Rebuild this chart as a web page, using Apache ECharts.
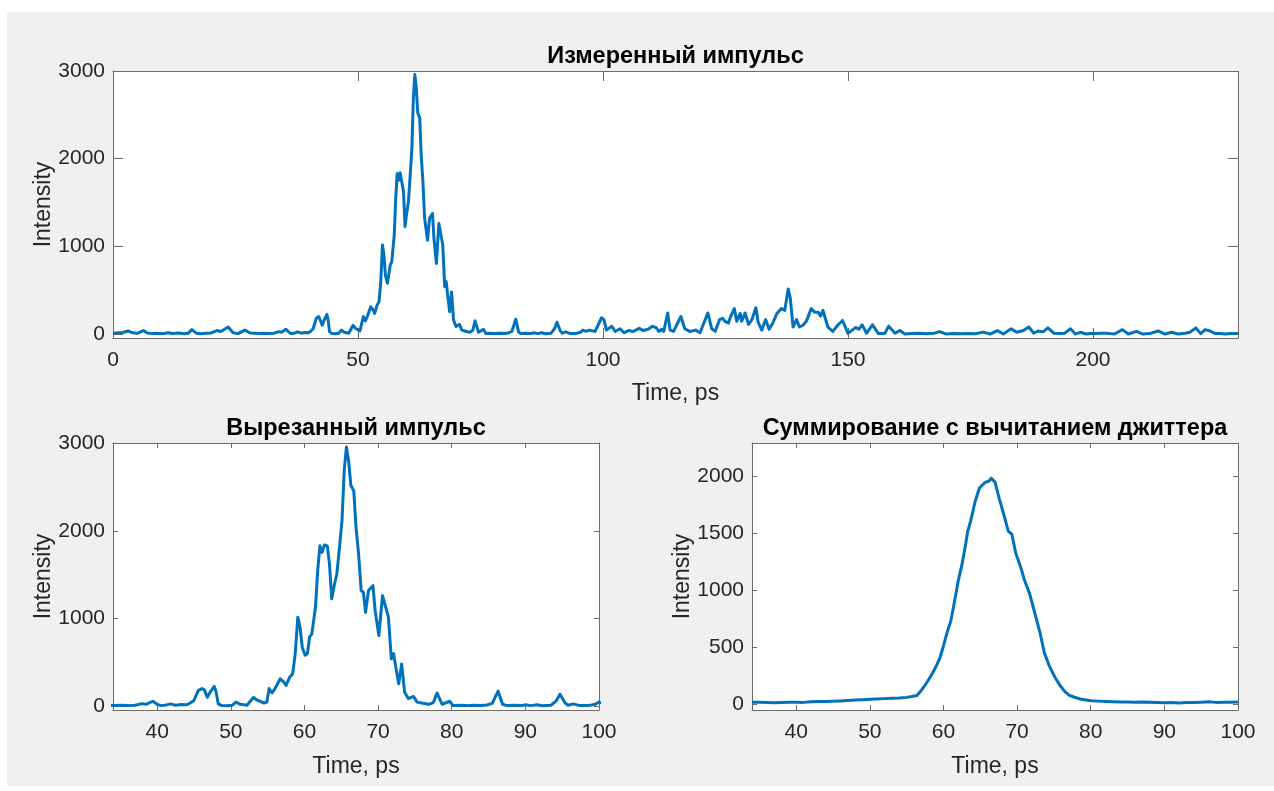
<!DOCTYPE html>
<html>
<head>
<meta charset="utf-8">
<title>Импульс</title>
<script src="https://cdn.jsdelivr.net/npm/echarts@6/dist/echarts.min.js"></script>
<style>
  html, body { margin: 0; padding: 0; background: #ffffff; }
  #frame { position: absolute; left: 7px; top: 12px; width: 1267px; height: 774px; background: #f0f0f0; }
  #chart { position: absolute; left: 0; top: 0; width: 1274px; height: 791px; }
</style>
</head>
<body>
<div id="frame"></div>
<div id="chart"></div>
<script>
// measured pulse, [time ps, intensity]
const measuredPulse = [
  [0,10],[1,14],[2,18],[3.1,35],[4,14],[5,8],[6.2,40],[7,12],[8,5],[9,8],
  [10,4],[11.3,14],[12,6],[13.4,12],[14.5,4],[15.3,8],[16.1,50],[17,10],[18,4],[19,8],
  [20,12],[21.2,40],[22,30],[23.5,80],[24.5,15],[25.5,5],[26.9,45],[28,12],[29,8],
  [29.9,5],[30.9,8],[31.9,5],[32.9,10],[33.8,28],[34.4,20],[35.3,55],[35.9,20],[36.4,5],[36.9,8],
  [37.7,25],[38.4,10],[39.1,18],[39.9,15],[40.4,35],[40.85,60],[41.5,180],[42.0,200],[42.3,185],[42.7,100],
  [43.1,160],[43.65,225],[43.9,160],[44.2,25],[44.7,5],[45.4,3],[46.1,10],[46.6,45],[47.2,20],[48.1,10],
  [49.0,100],[49.4,70],[50.4,35],[50.8,45],[51.1,200],[51.5,150],[51.9,200],[52.6,310],[53.1,275],[53.4,235],
  [53.9,330],[54.3,370],[54.65,600],[55.0,1015],[55.3,900],[55.6,670],[56.0,580],[56.3,600],[56.6,790],[56.9,825],
  [57.4,1130],[57.7,1550],[58.0,1830],[58.3,1755],[58.6,1840],[59.0,1830],[59.3,1620],[59.6,1225],[59.9,1360],[60.3,1510],
  [60.7,1850],[61.0,2120],[61.3,2690],[61.6,2960],[61.9,2800],[62.2,2520],[62.6,2460],[62.9,2040],[63.25,1740],[63.6,1320],
  [63.9,1300],[64.2,1070],[64.6,1320],[65.2,1375],[65.5,1090],[66.0,805],[66.5,1260],[67.0,1110],[67.3,1015],[67.7,540],
  [68.0,600],[68.3,445],[68.7,255],[69.1,480],[69.5,160],[70.0,85],[70.7,110],[71.2,45],[71.8,35],[72.8,20],
  [73.4,40],[73.9,150],[74.6,20],[75.6,55],[76.1,5],[76.9,8],[77.9,5],[78.9,10],[79.9,6],[80.7,12],
  [81.4,30],[82.2,170],[82.8,20],[83.4,5],[84.4,8],[85.4,5],[85.9,15],[86.6,5],[87.5,15],[88.2,3],
  [89.4,10],[90.1,60],[90.6,135],[91.3,35],[91.7,10],[92.4,25],[93.3,5],[94.4,5],[95.4,20],[95.9,45],
  [96.5,30],[97.2,45],[98.4,30],[99.7,186],[100.2,165],[100.7,45],[101.8,88],[102.5,30],[103.5,60],[104.3,15],
  [105.2,40],[106.2,30],[107.4,65],[108.2,40],[109.2,55],[110.1,88],[110.8,75],[111.4,30],[112.0,55],[112.4,30],
  [113.2,240],[113.7,45],[114.4,30],[115.9,200],[116.7,60],[117.7,30],[118.9,45],[119.8,15],[121.4,240],[122.2,60],
  [122.9,30],[123.8,165],[124.4,180],[124.9,145],[125.6,125],[126.1,205],[126.8,290],[127.3,145],[128.0,235],[128.3,145],
  [129.0,240],[129.7,110],[130.4,165],[131.2,300],[131.7,130],[132.4,45],[133.2,165],[133.9,55],[134.7,130],[135.5,235],
  [136.4,290],[137.1,270],[137.8,515],[138.2,420],[138.8,80],[139.5,165],[140.1,80],[140.8,100],[141.5,145],[142.5,290],
  [143.2,250],[143.9,250],[144.4,205],[144.9,270],[145.9,80],[146.9,30],[147.9,100],[148.9,155],[150.0,8],[151.0,50],
  [151.6,75],[152.2,55],[152.9,105],[153.8,10],[155.0,105],[156.2,5],[157.5,5],[158.3,90],[159.6,10],[160.6,40],
  [161.6,0],[163,5],[164.5,8],[166,3],[167.5,8],[168.7,28],[170.1,0],[171.5,5],[173,3],[174.5,6],
  [176,3],[177.6,22],[179,0],[180.5,40],[181.7,0],[183.3,60],[184.4,20],[185.8,40],[186.9,80],[187.9,10],
  [188.8,35],[189.8,25],[190.8,70],[192.0,10],[193.2,5],[194.2,8],[195.4,60],[196.4,0],[197.4,20],[198.6,0],
  [199.5,5],[200.7,5],[201.7,8],[202.7,10],[203.5,5],[204.4,0],[206.0,50],[207.2,0],[208.9,30],[210.2,0],
  [211.6,5],[213.3,35],[214.7,0],[216.0,20],[217.4,0],[218.8,10],[219.8,20],[221.0,70],[222.0,5],[222.9,50],
  [223.9,35],[225.0,5],[226.0,5],[227.0,0],[228.0,5],[229.6,5]
];

// the cut pulse is the measured one moved along time
const cutOffset = 4.1;

// summation with jitter subtraction, [time ps, intensity]
const summedPulse = [
  [34,15],[35,16],[36,13],[37,10],[38,14],[39,15],[40,16],[41,14],[42,20],[43,21],
  [44,22],[45,24],[46,27],[47,30],[48,34],[49,38],[50,42],[51,44],[52,47],[53,50],
  [54,52],[55,58],[55.7,65],[56.4,75],[57,120],[57.5,165],[58,215],[58.5,270],[59,330],[59.5,400],
  [60,510],[60.5,630],[61,730],[61.5,900],[62,1080],[62.5,1220],[63,1400],[63.3,1520],[63.7,1610],[64.3,1780],
  [64.9,1900],[65.6,1945],[66.2,1960],[66.5,1985],[66.7,1998],[67,1950],[67.6,1800],[68.3,1640],[68.8,1520],[69.3,1490],
  [69.8,1330],[70.4,1220],[71.0,1090],[71.7,970],[72.4,800],[73.1,630],[73.7,450],[74.4,330],[75.1,240],[75.8,165],
  [76.5,108],[77.1,76],[77.8,59],[78.7,41],[80.1,28],[81,25],[82,22],[83,20],[84,18],[85,17],
  [86,16],[87,17],[88,15],[89,13],[90,10],[91,12],[92,9],[93,12],[94,14],[95,16],
  [96,19],[97,14],[98,15],[99,16],[100,17]
];

const titles = ['Измеренный импульс', 'Вырезанный импульс', 'Суммирование с вычитанием джиттера'];
const xTicksTop = [0, 50, 100, 150, 200];
const xTicksBottom = [40, 50, 60, 70, 80, 90, 100];
const yTicksPulse = [0, 1000, 2000, 3000];
const yTicksSum = [0, 500, 1000, 1500, 2000];

const FONT = '"Liberation Sans", Arial, sans-serif';
const LINE_GRAY = '#6b6b6b';
const TEXT_GRAY = '#262626';
const BLUE = '#0072BD';

const plain = v => String(v);

const makeX = (grid, min, max, ticks, tickLen, nameGap) => {
  const line = {show: true, onZero: false, lineStyle: {color: LINE_GRAY, width: 1}};
  const tick = {show: true, inside: true, length: tickLen, customValues: ticks, lineStyle: {color: LINE_GRAY, width: 1}};
  return [
    {
      type: 'value', gridIndex: grid, position: 'bottom', min: min, max: max,
      splitLine: {show: false}, axisLine: line, axisTick: tick,
      axisLabel: {customValues: ticks, formatter: plain, margin: 12, color: TEXT_GRAY, fontSize: 21, fontFamily: FONT},
      name: 'Time, ps', nameLocation: 'middle', nameGap: nameGap, nameMoveOverlap: false,
      nameTextStyle: {color: TEXT_GRAY, fontSize: 23, fontFamily: FONT}
    },
    {
      type: 'value', gridIndex: grid, position: 'top', min: min, max: max,
      splitLine: {show: false}, axisLine: line, axisTick: tick, axisLabel: {show: false}
    }
  ];
};

const makeY = (grid, min, max, ticks, tickLen) => {
  const line = {show: true, onZero: false, lineStyle: {color: LINE_GRAY, width: 1}};
  const tick = {show: true, inside: true, length: tickLen, customValues: ticks, lineStyle: {color: LINE_GRAY, width: 1}};
  return [
    {
      type: 'value', gridIndex: grid, position: 'left', min: min, max: max,
      splitLine: {show: false}, axisLine: line, axisTick: tick,
      axisLabel: {customValues: ticks, formatter: plain, margin: 8, color: TEXT_GRAY, fontSize: 21, fontFamily: FONT},
      name: 'Intensity', nameLocation: 'middle', nameGap: 58, nameMoveOverlap: false,
      nameTextStyle: {color: TEXT_GRAY, fontSize: 23, fontFamily: FONT}
    },
    {
      type: 'value', gridIndex: grid, position: 'right', min: min, max: max,
      splitLine: {show: false}, axisLine: line, axisTick: tick, axisLabel: {show: false}
    }
  ];
};

const lineSeries = (xi, yi, data) => ({
  type: 'line', xAxisIndex: xi, yAxisIndex: yi, data: data,
  showSymbol: false, symbol: 'none', smooth: false, clip: true,
  lineStyle: {color: BLUE, width: 3, join: 'round'}, itemStyle: {color: BLUE}
});

const getOptionChart = () => {
  const cutPulse = measuredPulse
    .map(p => [+(p[0] + cutOffset).toFixed(2), p[1]])
    .filter(p => p[0] >= 33 && p[0] <= 101);
  const titleStyle = {color: '#000000', fontSize: 23.5, fontWeight: 'bold', fontFamily: FONT};
  return {
    animation: false,
    title: [
      {text: titles[0], left: 675.5, top: 45, textAlign: 'center', padding: 0, textStyle: titleStyle},
      {text: titles[1], left: 356, top: 417, textAlign: 'center', padding: 0, textStyle: titleStyle},
      {text: titles[2], left: 995, top: 417, textAlign: 'center', padding: 0, textStyle: titleStyle}
    ],
    grid: [
      {left: 113, top: 71, width: 1125, height: 267, show: true, backgroundColor: '#ffffff', borderWidth: 0},
      {left: 113, top: 443, width: 486, height: 267, show: true, backgroundColor: '#ffffff', borderWidth: 0},
      {left: 752, top: 443, width: 486, height: 267, show: true, backgroundColor: '#ffffff', borderWidth: 0}
    ],
    xAxis: [].concat(
      makeX(0, 0, 229.6, xTicksTop, 10, 44),
      makeX(1, 34, 100, xTicksBottom, 5, 45),
      makeX(2, 34, 100, xTicksBottom, 5, 45)
    ),
    yAxis: [].concat(
      makeY(0, -45, 3000, yTicksPulse, 10),
      makeY(1, -45, 3005, yTicksPulse, 5),
      makeY(2, -53, 2294, yTicksSum, 5)
    ),
    series: [
      lineSeries(0, 0, measuredPulse),
      lineSeries(2, 2, cutPulse),
      lineSeries(4, 4, summedPulse)
    ]
  };
};

const initCharts = () => {
  const chart = echarts.init(document.getElementById('chart'));
  chart.setOption(getOptionChart());
};

window.addEventListener('load', () => {
  initCharts();
});
</script>
</body>
</html>
